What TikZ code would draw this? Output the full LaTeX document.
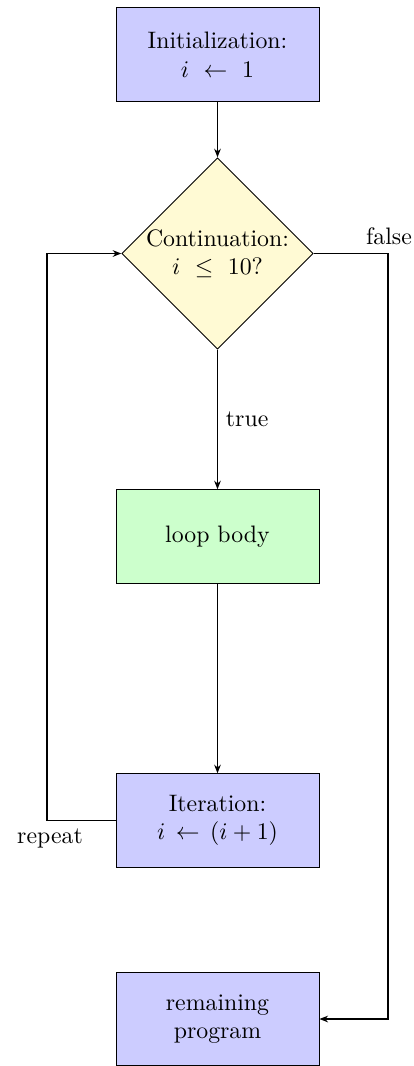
\documentclass[tikz,border=0pt]{standalone}
\usetikzlibrary{shapes.geometric,arrows.meta}
\definecolor{boxblue}{RGB}{204,204,255}
\definecolor{boxgreen}{RGB}{204,255,204}
\definecolor{boxyellow}{RGB}{255,250,212}
\begin{document}
\begin{tikzpicture}[x=0.42pt,y=-0.42pt,
  procbox/.style={draw, rectangle, minimum width=85.26pt, minimum height=39.3pt, align=center, inner sep=0pt},
  decbox/.style={draw, diamond, minimum width=79.4pt, minimum height=79.4pt, align=center, inner sep=0pt, fill=boxyellow},
  arr/.style={-{Stealth[length=3.6pt,width=2.8pt]}},
  thin line/.style={line width=0.45pt}]
\useasboundingbox (0,0) rectangle (414,1066);
\node[procbox, fill=boxblue] (init) at (217.5,54.5) {Initialization:\\$i \ \leftarrow \ 1$};
\node[decbox] (cont) at (217.5,253.5) {Continuation:\\$i \ \leq \ 10$?};
\node[procbox, fill=boxblue] (body) at (217.5,536.5) [fill=boxgreen] {loop body};
\node[procbox, fill=boxblue] (iter) at (217.5,820.5) {Iteration:\\$i \,\leftarrow\, (i+1)$};
\node[procbox, fill=boxblue] (rest) at (217.5,1019) {remaining\\program};
\coordinate (lc) at (47,820.5);
\coordinate (rc) at (388,253.5);
\draw[arr, thin line] (init) -- (cont);
\draw[arr, thin line] (cont) -- node[right] {true} (body);
\draw[arr, thin line] (body) -- (iter);
\draw[arr, thin line] (iter.west) -- (lc) |- (cont.west);
\draw[arr, thin line] (cont.east) -- (rc) |- (rest.east);
\node (falselbl) at (389,236) {false};
\node (repeatlbl) at (50,838) {repeat};
\end{tikzpicture}
\end{document}
